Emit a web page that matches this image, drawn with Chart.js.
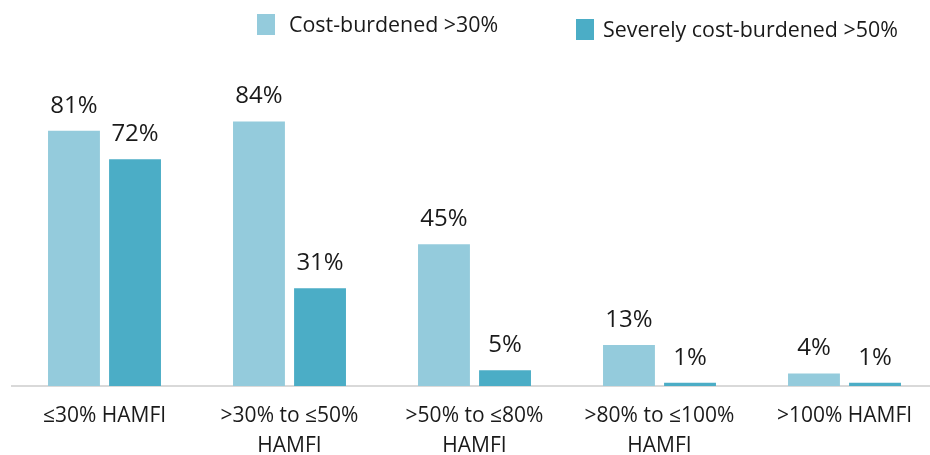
<!DOCTYPE html>
<html>
<head>
<meta charset="utf-8">
<script src="https://cdn.jsdelivr.net/npm/chart.js@4/dist/chart.umd.min.js"></script>
<style>
  html, body { margin: 0; padding: 0; background: #fff; overflow: hidden; }
  canvas { display: block; }
</style>
</head>
<body>
<canvas id="chart" width="940" height="455"></canvas>
<script>
// --- data ---
const categories = [
    ['≤30% HAMFI'],
    ['>30% to ≤50%', 'HAMFI'],
    ['>50% to ≤80%', 'HAMFI'],
    ['>80% to ≤100%', 'HAMFI'],
    ['>100% HAMFI']
];
const seriesNames = ['Cost-burdened >30%', 'Severely cost-burdened >50%'];
const costBurdened = [81, 84, 45, 13, 4];
const severelyBurdened = [72, 31, 5, 1, 1];
const seriesColors = ['#94cbdc', '#4badc6'];

const FONT = '"Open Sans", "Noto Sans", sans-serif';
const TEXT_COLOR = '#1a1a1a';

// values above bars
const valueLabels = {
    id: 'valueLabels',
    afterDatasetsDraw(chart) {
        const ctx = chart.ctx;
        ctx.save();
        ctx.font = '24px ' + FONT;
        ctx.fillStyle = TEXT_COLOR;
        ctx.textAlign = 'center';
        ctx.textBaseline = 'alphabetic';
        chart.data.datasets.forEach((ds, i) => {
            chart.getDatasetMeta(i).data.forEach((bar, j) => {
                ctx.fillText(ds.data[j] + '%', bar.x, bar.y - 18);
            });
        });
        ctx.restore();
    }
};

// legend drawn at the top, second item sits a bit lower like the original
const topLegend = {
    id: 'topLegend',
    afterDraw(chart) {
        const ctx = chart.ctx;
        const spots = [{ x: 257, y: 14, tx: 289 }, { x: 576, y: 19, tx: 603 }];
        ctx.save();
        ctx.font = '21.4px ' + FONT;
        ctx.textBaseline = 'middle';
        ctx.textAlign = 'left';
        chart.data.datasets.forEach((ds, i) => {
            const s = spots[i];
            ctx.fillStyle = ds.backgroundColor;
            ctx.fillRect(s.x, s.y, 18, 21);
            ctx.fillStyle = TEXT_COLOR;
            ctx.fillText(ds.label, s.tx, s.y + 12);
        });
        ctx.restore();
    }
};

new Chart(document.getElementById('chart'), {
    type: 'bar',
    data: {
        labels: categories,
        datasets: [
            { label: seriesNames[0], data: costBurdened, backgroundColor: seriesColors[0] },
            { label: seriesNames[1], data: severelyBurdened, backgroundColor: seriesColors[1] }
        ]
    },
    options: {
        responsive: false,
        animation: false,
        layout: { padding: { top: 71, left: 12, right: 3, bottom: 0 } },
        datasets: {
            bar: { barPercentage: 0.85, categoryPercentage: 0.66 }
        },
        plugins: {
            legend: { display: false },
            tooltip: { enabled: false }
        },
        scales: {
            x: {
                grid: { display: false, drawTicks: false },
                border: { display: true, color: '#d9d9d9', width: 2 },
                ticks: {
                    color: TEXT_COLOR,
                    padding: 15,
                    maxRotation: 0,
                    autoSkip: false,
                    font: { family: FONT, size: 21, lineHeight: 1.43 }
                },
                afterFit(scale) { scale.height = 69; }
            },
            y: {
                display: false,
                min: 0,
                max: 100
            }
        }
    },
    plugins: [valueLabels, topLegend]
});
</script>
</body>
</html>
